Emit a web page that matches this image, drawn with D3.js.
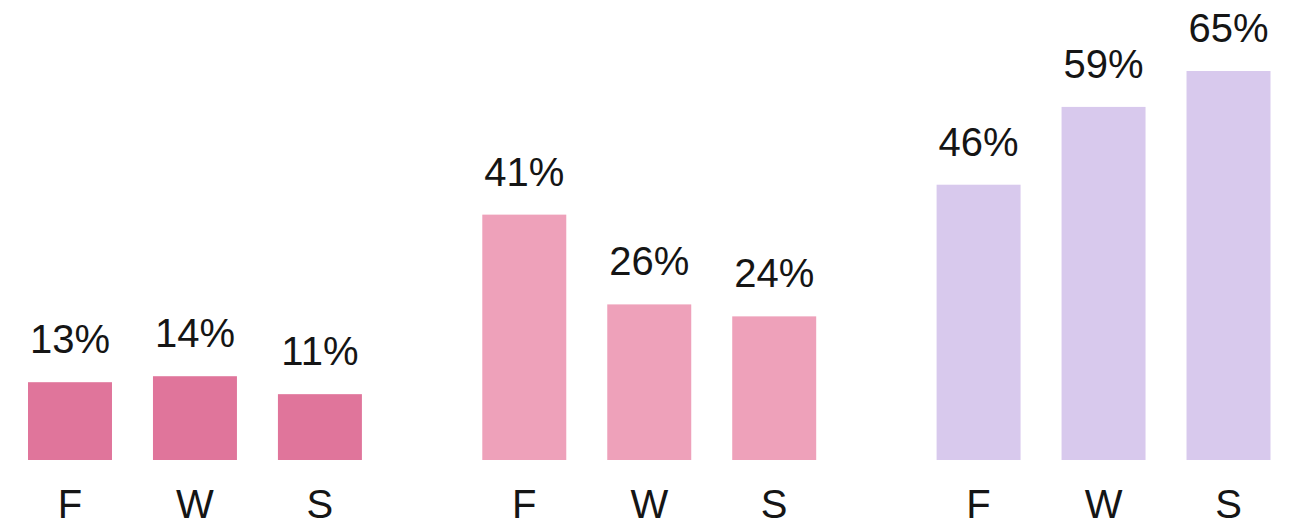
<!DOCTYPE html>
<html>
<head>
<meta charset="utf-8">
<script src="https://cdn.jsdelivr.net/npm/d3@7"></script>
<style>
  html, body { margin: 0; padding: 0; background: #ffffff; }
  svg { display: block; }
  text { font-family: "Liberation Sans", Arial, Helvetica, sans-serif; fill: #151515; }
</style>
</head>
<body>
<svg id="chart" width="1296" height="528"></svg>
<script>
// Seasons shown under every bar
const categories = ["F", "W", "S"];

// Percent values for the three panels
const seriesA = [13, 14, 11];
const seriesB = [41, 26, 24];
const seriesC = [46, 59, 65];

const panelNames = ["A", "B", "C"];
const panelValues = [seriesA, seriesB, seriesC];
const panelColors = ["#e0759b", "#eea1ba", "#d8c9ed"];

const svg = d3.select("#chart");
const baseY = 460;
const fontSize = 40;

// Panel positions across the width
const xPanel = d3.scaleBand()
  .domain(panelNames)
  .range([28, 1270.5])
  .paddingInner(0.265)
  .paddingOuter(0);

// Bar positions inside a panel
const xBar = d3.scaleBand()
  .domain(categories)
  .range([0, xPanel.bandwidth()])
  .paddingInner(0.328)
  .paddingOuter(0);

const y = d3.scaleLinear()
  .domain([0, 65])
  .range([baseY, 71]);

const panels = svg.selectAll("g.panel")
  .data(panelNames.map((name, i) => ({
    name,
    color: panelColors[i],
    rows: categories.map((c, j) => ({ cat: c, value: panelValues[i][j] }))
  })))
  .join("g")
  .attr("class", "panel")
  .attr("transform", d => `translate(${xPanel(d.name)},0)`);

panels.selectAll("rect")
  .data(d => d.rows.map(r => ({ ...r, color: d.color })))
  .join("rect")
  .attr("x", d => xBar(d.cat))
  .attr("width", xBar.bandwidth())
  .attr("y", d => y(d.value))
  .attr("height", d => y(0) - y(d.value))
  .attr("fill", d => d.color);

// Value labels above bars
panels.selectAll("text.value")
  .data(d => d.rows)
  .join("text")
  .attr("class", "value")
  .attr("x", d => xBar(d.cat) + xBar.bandwidth() / 2)
  .attr("y", d => y(d.value) - 29)
  .attr("text-anchor", "middle")
  .attr("font-size", fontSize)
  .text(d => d.value + "%");

// Category axis labels, drawn via a bottom axis without lines
panels.each(function () {
  const axis = d3.axisBottom(xBar).tickSize(0).tickPadding(0);
  const g = d3.select(this).append("g")
    .attr("transform", `translate(0,${baseY})`)
    .call(axis);
  g.select(".domain").remove();
  g.selectAll("text")
    .attr("font-size", fontSize)
    .attr("font-family", "Liberation Sans, Arial, Helvetica, sans-serif")
    .attr("fill", "#151515")
    .attr("dy", 0)
    .attr("y", 58);
});
</script>
</body>
</html>
